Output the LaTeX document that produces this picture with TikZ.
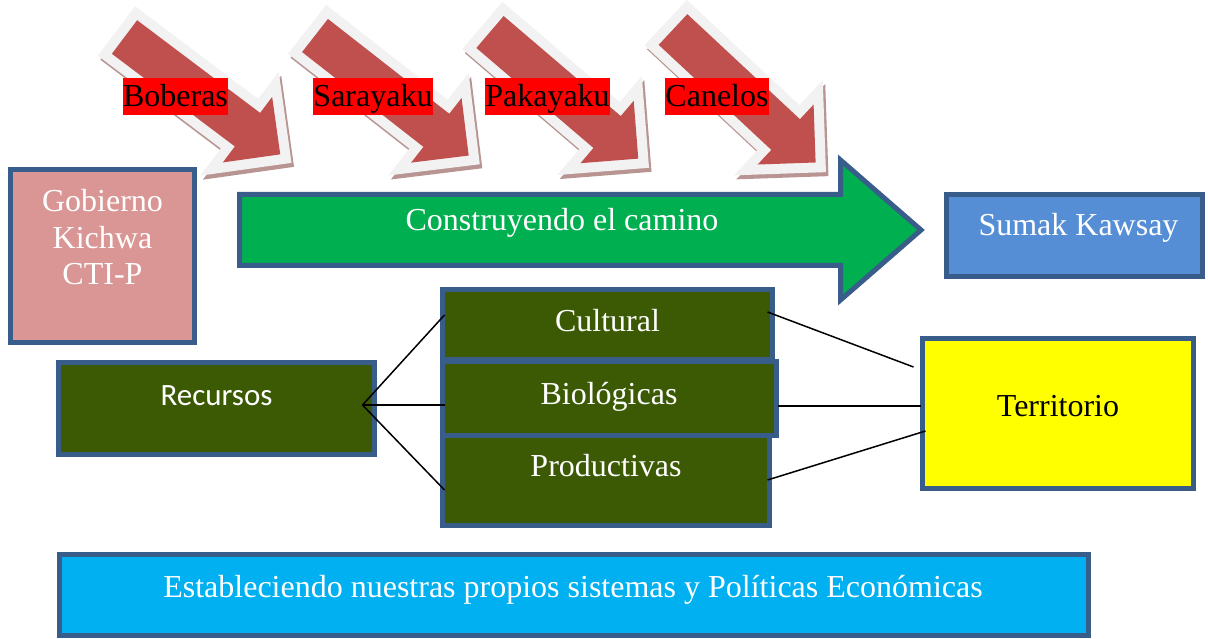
\documentclass[tikz,border=0pt]{standalone}
\usepackage{fontspec}
\setmainfont{Liberation Serif}
\newfontfamily\calibrifont{Carlito}
\usetikzlibrary{calc}
\definecolor{bordc}{HTML}{385D8A}
\definecolor{arrred}{HTML}{C0504D}
\definecolor{arrwhite}{HTML}{F2F2F2}
\definecolor{arrshadow}{HTML}{B89593}
\definecolor{gobfill}{HTML}{D99694}
\definecolor{camgreen}{HTML}{00B050}
\definecolor{sumakblue}{HTML}{558ED5}
\definecolor{olive}{HTML}{3C5A04}
\definecolor{terryellow}{HTML}{FFFF00}
\definecolor{econblue}{HTML}{00B0F0}
\definecolor{labred}{HTML}{FF0000}
\newcommand\arrowshape{(0,-21) -- (154,-21) -- (154,-41) -- (195,0) -- (154,41) -- (154,21) -- (0,21) -- cycle}
\newcommand\redarrow[3]{%
  \begin{scope}[shift={(#1+2.5,#2+4)}, rotate=-#3]
    \filldraw[arrshadow, line width=20pt] \arrowshape;
  \end{scope}
  \begin{scope}[shift={(#1,#2)}, rotate=-#3]
    \filldraw[arrwhite, line width=20pt] \arrowshape;
    \fill[arrred] \arrowshape;
  \end{scope}}
\begin{document}
\begin{tikzpicture}[x=1pt, y=-1pt, line join=miter,
  box/.style={draw=bordc, line width=5pt, inner sep=0pt, rectangle},
  txt/.style={font=\fontsize{32}{37}\selectfont, text=white, inner sep=0pt, anchor=base},
  lab/.style={font=\fontsize{32}{37}\selectfont, text=black, fill=labred, inner xsep=0pt, inner ysep=0pt, text height=29pt, text depth=8pt, anchor=base},
  conn/.style={draw=black, line width=1.5pt}]
\useasboundingbox (0,0) rectangle (1208,639);

% red diagonal arrows
\redarrow{124.5}{37}{37}
\redarrow{315}{35.5}{38}
\redarrow{490}{32}{40.5}
\redarrow{673}{29.5}{43}

% labels on arrows
\node[lab] (lbob) at (175.5,107) {Boberas};
\node[lab] (lsar) at (373,107) {Sarayaku};
\node[lab] (lpak) at (547.5,107) {Pakayaku};
\node[lab] (lcan) at (717,107) {Canelos};

% Gobierno box
\node[box, fill=gobfill, minimum width=184pt, minimum height=173pt] (gob) at (102.5,256) {};
\node[txt, text width=180pt, align=center, font=\fontsize{32}{36.5}\selectfont] (tgob) at (102.5,212) {Gobierno\\Kichwa\\CTI-P};

% green arrow
\filldraw[fill=camgreen, draw=bordc, line width=5pt]
  (239.5,194.5) -- (840.5,194.5) -- (840.5,160) -- (921,230) -- (840.5,300) -- (840.5,265.5) -- (239.5,265.5) -- cycle;
\node[txt] (tcam) at (562,231) {Construyendo el camino};

% Sumak Kawsay
\node[box, fill=sumakblue, minimum width=256pt, minimum height=82pt] (sumak) at (1074.5,235.5) {};
\node[txt] (tsumak) at (1078.5,236) {Sumak Kawsay};

% Recursos
\node[box, fill=olive, minimum width=316pt, minimum height=92pt] (rec) at (216.5,408.5) {};
\node[txt, font=\calibrifont\fontsize{31}{37}\selectfont] (trec) at (216.5,405) {Recursos};

% three green boxes
\node[box, fill=olive, minimum width=330pt, minimum height=70pt] (cult) at (607.5,324.5) {};
\node[box, fill=olive, minimum width=327pt, minimum height=91pt] (prod) at (606,480) {};
\node[box, fill=olive, minimum width=334pt, minimum height=74pt] (biol) at (609.5,398.5) {};
\node[txt] (tcult) at (607.5,331.5) {Cultural};
\node[txt] (tbiol) at (609,404) {Biológicas};
\node[txt] (tprod) at (606,476) {Productivas};

% Territorio
\node[box, fill=terryellow, minimum width=271pt, minimum height=150pt] (terr) at (1058,413.5) {};
\node[txt, text=black] (tterr) at (1058,416.5) {Territorio};

% bottom box
\node[box, fill=econblue, minimum width=1029pt, minimum height=81pt] (econ) at (574,595) {};
\node[txt] (tecon) at (573,597) {Estableciendo nuestras propios sistemas y Políticas Económicas};

% connector points
\coordinate (rj) at ($(rec.east)+(-14.5,-3.5)$);
\coordinate (cl) at ($(cult.west)+(4.5,-9.5)$);
\coordinate (bl) at ($(biol.west)+(4.5,6.5)$);
\coordinate (pl) at ($(prod.west)+(4.5,10)$);
\coordinate (cr) at ($(cult.east)+(-7.5,-12.5)$);
\coordinate (br) at ($(biol.east)+(-1.5,7.5)$);
\coordinate (pr) at ($(prod.east)+(-4.5,0)$);
\coordinate (tc) at ($(terr.west)+(-6.5,-46.5)$);
\coordinate (tb) at ($(terr.west)+(0.5,-7.5)$);
\coordinate (tp) at ($(terr.west)+(5.5,17.5)$);

\draw[conn] (rj) -- (cl);
\draw[conn] (rj) -- (bl);
\draw[conn] (rj) -- (pl);
\draw[conn] (cr) -- (tc);
\draw[conn] (br) -- (tb);
\draw[conn] (pr) -- (tp);
\end{tikzpicture}
\end{document}
